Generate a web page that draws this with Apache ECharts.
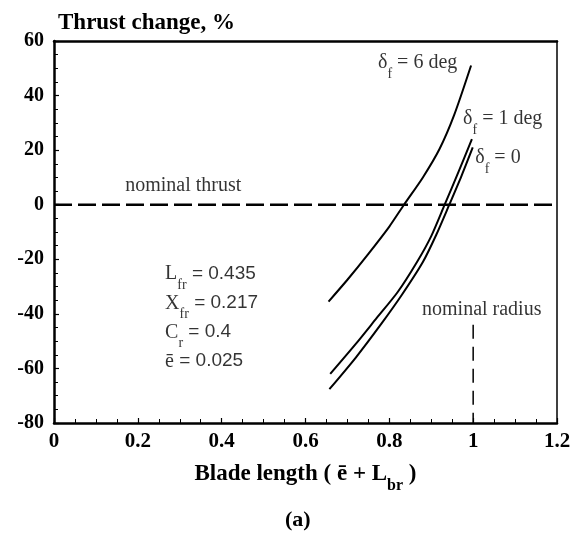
<!DOCTYPE html>
<html>
<head>
<meta charset="utf-8">
<script src="https://cdn.jsdelivr.net/npm/echarts@6/dist/echarts.min.js"></script>
<style>
  html, body { margin: 0; padding: 0; background: #fff; }
  #chart { width: 576px; height: 539px; }
</style>
</head>
<body>
<div id="chart"></div>
<script>
// Blade length (x) vs thrust change % (y), one curve per flap angle
const bladeLen6 = [0.655, 0.70, 0.75, 0.80, 0.835, 0.88, 0.92, 0.955, 0.995]
const thrust6 = [-35.5, -27.5, -18, -8, 0, 10, 20.5, 33, 51]

const bladeLen1 = [0.659, 0.72, 0.77, 0.82, 0.866, 0.90, 0.932, 0.965, 0.997]
const thrust1 = [-62, -51, -41.5, -32, -21, -11.5, 0, 12, 24]

const bladeLen0 = [0.657, 0.72, 0.782, 0.83, 0.88, 0.912, 0.943, 0.972, 0.999]
const thrust0 = [-67.6, -56, -43.4, -33, -21, -11, 0, 10.5, 21]

const nominalThrustX = [0, 1.2]
const nominalThrustY = [0, 0]
const nominalRadiusX = [1, 1]
const nominalRadiusY = [-44, -80]

const xTicks = [0, 0.2, 0.4, 0.6, 0.8, 1, 1.2]
const yTicks = [-80, -60, -40, -20, 0, 20, 40, 60]

const pairs = (xs, ys) => xs.map((x, i) => [x, ys[i]])

const serif = '"Liberation Serif", "Times New Roman", serif'
const sans = '"Liberation Sans", Arial, sans-serif'

// rich styles for subscripts: main glyphs sit at the top of the line, subs at the bottom
const rich = {
  n: { fontFamily: serif, fontSize: 20, color: '#000', lineHeight: 28, verticalAlign: 'top' },
  m: { fontFamily: sans, fontSize: 19, color: '#000', lineHeight: 28, verticalAlign: 'top' },
  s: { fontFamily: serif, fontSize: 14, color: '#000', lineHeight: 28, verticalAlign: 'bottom' }
}

const notes = [
  { value: [0.773, 50.5], text: '{n|δ}{s|f}{n| = 6 deg}' },
  { value: [0.976, 30], text: '{n|δ}{s|f}{n| = 1 deg}' },
  { value: [1.005, 15.7], text: '{n|δ}{s|f}{n| = 0}' },
  { value: [0.265, -26.8], text: '{n|L}{s|fr}{m| = 0.435}' },
  { value: [0.265, -37.6], text: '{n|X}{s|fr}{m| = 0.217}' },
  { value: [0.265, -48.3], text: '{n|C}{s|r}{m| = 0.4}' },
  { value: [0.265, -59], text: '{n|ē}{m| = 0.025}' },
  { value: [0.17, 5.5], text: '{n|nominal thrust}' },
  { value: [0.878, -40], text: '{n|nominal radius}' }
]

const chart = echarts.init(document.getElementById('chart'))

const curve = (name, xs, ys) => ({
  name,
  type: 'line',
  data: pairs(xs, ys),
  smooth: 0.25,
  showSymbol: false,
  lineStyle: { color: '#000', width: 2 },
  z: 3
})

const option = {
  backgroundColor: '#fff',
  animation: false,
  title: {
    text: 'Thrust change, %',
    left: 53,
    top: 7,
    textStyle: { fontFamily: serif, fontSize: 23, fontWeight: 'bold', color: '#000' }
  },
  grid: { left: 54, right: 19, top: 41, bottom: 116 },
  xAxis: [
    {
      type: 'value',
      min: 0,
      max: 1.2,
      interval: 0.2,
      name: '{b|Blade length ( ē + L}{bs|br}{b| )}',
      nameLocation: 'middle',
      nameGap: 40,
      nameTextStyle: {
        rich: {
          b: { fontFamily: serif, fontSize: 23, fontWeight: 'bold', color: '#000', lineHeight: 31, verticalAlign: 'top' },
          bs: { fontFamily: serif, fontSize: 16, fontWeight: 'bold', color: '#000', lineHeight: 31, verticalAlign: 'bottom' }
        }
      },
      axisLine: { onZero: false, lineStyle: { color: '#000', width: 2.5 } },
      axisTick: { inside: true, length: 5, lineStyle: { color: '#000', width: 1.2 } },
      minorTick: { show: true, splitNumber: 4, length: 4, lineStyle: { color: '#000', width: 1 } },
      axisLabel: {
        margin: 8,
        fontFamily: serif,
        fontSize: 21,
        fontWeight: 'bold',
        color: '#000',
        formatter: v => {
          const t = xTicks.find(k => Math.abs(k - v) < 1e-6)
          return t === undefined ? '' : String(t)
        }
      },
      splitLine: { show: false }
    },
    {
      type: 'value',
      position: 'top',
      min: 0,
      max: 1.2,
      axisLine: { onZero: false, lineStyle: { color: '#000', width: 2.5 } },
      axisTick: { show: false },
      axisLabel: { show: false },
      splitLine: { show: false }
    }
  ],
  yAxis: [
    {
      type: 'value',
      min: -80,
      max: 60,
      interval: 20,
      axisLine: { onZero: false, lineStyle: { color: '#000', width: 2.5 } },
      axisTick: { inside: true, length: 5, lineStyle: { color: '#000', width: 1.2 } },
      minorTick: { show: true, splitNumber: 4, length: 4, lineStyle: { color: '#000', width: 1 } },
      axisLabel: {
        margin: 10,
        fontFamily: serif,
        fontSize: 20,
        fontWeight: 'bold',
        color: '#000',
        formatter: v => (yTicks.includes(v) ? String(v) : '')
      },
      splitLine: { show: false }
    },
    {
      type: 'value',
      position: 'right',
      min: -80,
      max: 60,
      axisLine: { show: true, onZero: false, lineStyle: { color: '#000', width: 1.5 } },
      axisTick: { show: false },
      axisLabel: { show: false },
      splitLine: { show: false }
    }
  ],
  series: [
    curve('δf = 6 deg', bladeLen6, thrust6),
    curve('δf = 1 deg', bladeLen1, thrust1),
    curve('δf = 0', bladeLen0, thrust0),
    {
      name: 'nominal thrust',
      type: 'line',
      data: pairs(nominalThrustX, nominalThrustY),
      showSymbol: false,
      lineStyle: { color: '#000', width: 2.5, type: [18, 6] },
      z: 2
    },
    {
      name: 'nominal radius',
      type: 'line',
      data: pairs(nominalRadiusX, nominalRadiusY),
      showSymbol: false,
      lineStyle: { color: '#000', width: 1.5, type: [14, 8] },
      z: 2
    },
    {
      name: 'notes',
      type: 'scatter',
      symbolSize: 0,
      silent: true,
      data: notes.map(n => ({ value: n.value, text: n.text })),
      label: {
        show: true,
        position: 'inside',
        align: 'left',
        verticalAlign: 'middle',
        color: '#000',
        formatter: p => p.data.text,
        rich
      },
      z: 4
    }
  ],
  graphic: [
    {
      type: 'text',
      left: 285,
      top: 509,
      style: { text: '(a)', font: 'bold 22px ' + serif, fill: '#000' }
    }
  ]
}

chart.setOption(option)
</script>
</body>
</html>
